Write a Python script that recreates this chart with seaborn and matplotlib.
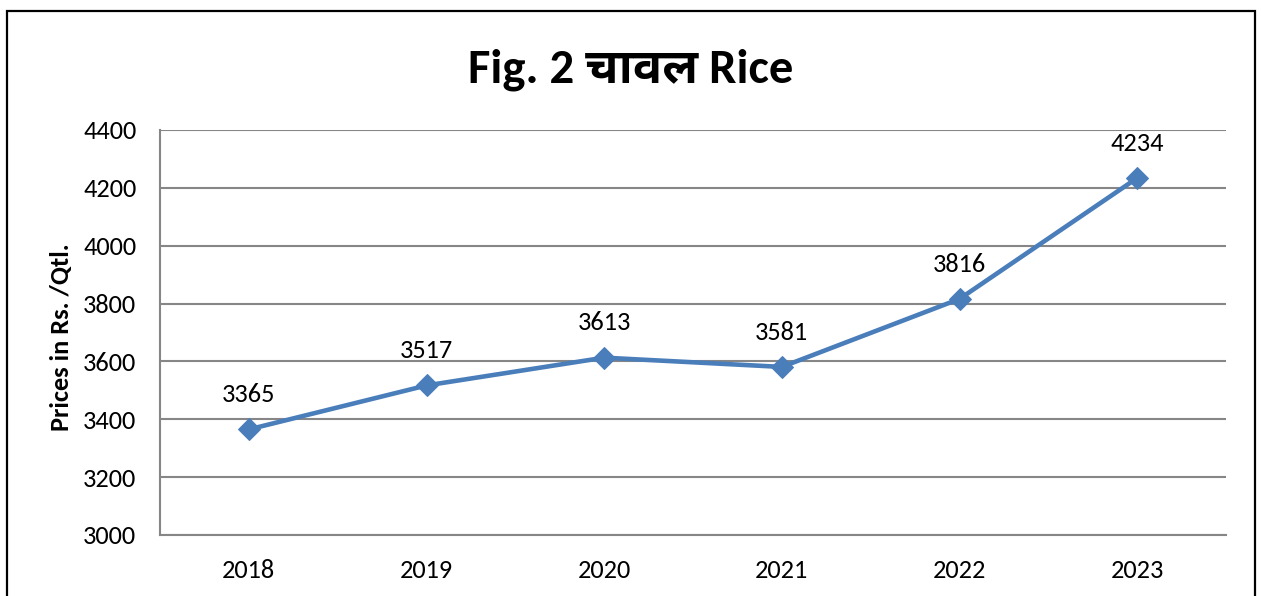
import matplotlib
matplotlib.use("Agg")
import matplotlib.pyplot as plt
from matplotlib import font_manager
import matplotlib.patches as mpatches
import seaborn as sns
import pandas as pd
import glob, os

years = ["2018", "2019", "2020", "2021", "2022", "2023"]
prices = [3365, 3517, 3613, 3581, 3816, 4234]
yticks = [3000, 3200, 3400, 3600, 3800, 4000, 4200, 4400]
title_parts = ("Fig. 2 ", "चावल", " Rice")
ylabel = "Prices in Rs. /Qtl."

# fonts
def fam_from(path):
    font_manager.fontManager.addfont(path)
    return font_manager.FontProperties(fname=path).get_name()

latin = "Lato"
for cand in glob.glob("/usr/share/fonts/**/Carlito*.ttf", recursive=True):
    try:
        latin = fam_from(cand)
    except Exception:
        pass
deva = None
for p in ["/usr/share/fonts/truetype/google-fonts/NotoSansDevanagariUI-Bold.ttf",
          "/usr/share/fonts/truetype/google-fonts/NotoSansDevanagari-Bold.ttf"]:
    if os.path.exists(p):
        deva = fam_from(p)
        break
if deva is None:
    for p in glob.glob("/usr/share/fonts/**/*Devanagari*.ttf", recursive=True):
        deva = fam_from(p)
        break

sns.set_theme(style="white")
plt.rcParams["font.family"] = [latin, "DejaVu Sans"]

df = pd.DataFrame({"year": years, "price": prices})

W, H = 1262, 596
fig = plt.figure(figsize=(W / 100, H / 100), dpi=100)
ax = fig.add_axes([160 / W, 1 - 535 / H, (1226 - 160) / W, (535 - 130) / H])

blue = "#4A7EBB"
sns.lineplot(data=df, x="year", y="price", ax=ax, color=blue, linewidth=3.3,
             marker="D", markersize=11, markeredgecolor=blue, sort=False)

ax.set_xlim(-0.5, len(years) - 0.5)
ax.set_ylim(yticks[0], yticks[-1])
ax.set_yticks(yticks)
ax.set_yticklabels([str(t) for t in yticks])
ax.tick_params(axis="both", length=0, labelsize=19, colors="black")
ax.tick_params(axis="x", pad=17)
ax.tick_params(axis="y", pad=17)
ax.grid(axis="y", color="#868686", linewidth=1.5)
ax.grid(axis="x", visible=False)
for s in ["top", "right"]:
    ax.spines[s].set_visible(False)
for s in ["left", "bottom"]:
    ax.spines[s].set_color("#868686")
    ax.spines[s].set_linewidth(1.5)
ax.set_xlabel("")
ax.set_ylabel("")

for i, v in enumerate(prices):
    ax.annotate(str(v), xy=(i, v), xytext=(0, 25), textcoords="offset points",
                ha="center", va="center", fontsize=19, color="black")

fig.text(61 / W, 1 - 337 / H, ylabel, rotation=90, ha="center", va="center",
         fontsize=19, fontweight="bold", color="black")

fams_title = [latin, deva, "DejaVu Sans"] if deva else [latin, "DejaVu Sans"]
fig.text(631 / W, 1 - 70 / H, "".join(title_parts), ha="center", va="center",
         fontsize=35, fontweight="bold", family=fams_title, color="black")

border = mpatches.Rectangle((7 / W, -0.05), (1255 - 7) / W, 1 - 11 / H + 0.05,
                            transform=fig.transFigure, fill=False,
                            edgecolor="black", linewidth=1.6)
fig.patches.append(border)

fig.savefig("out.png", dpi=100)
